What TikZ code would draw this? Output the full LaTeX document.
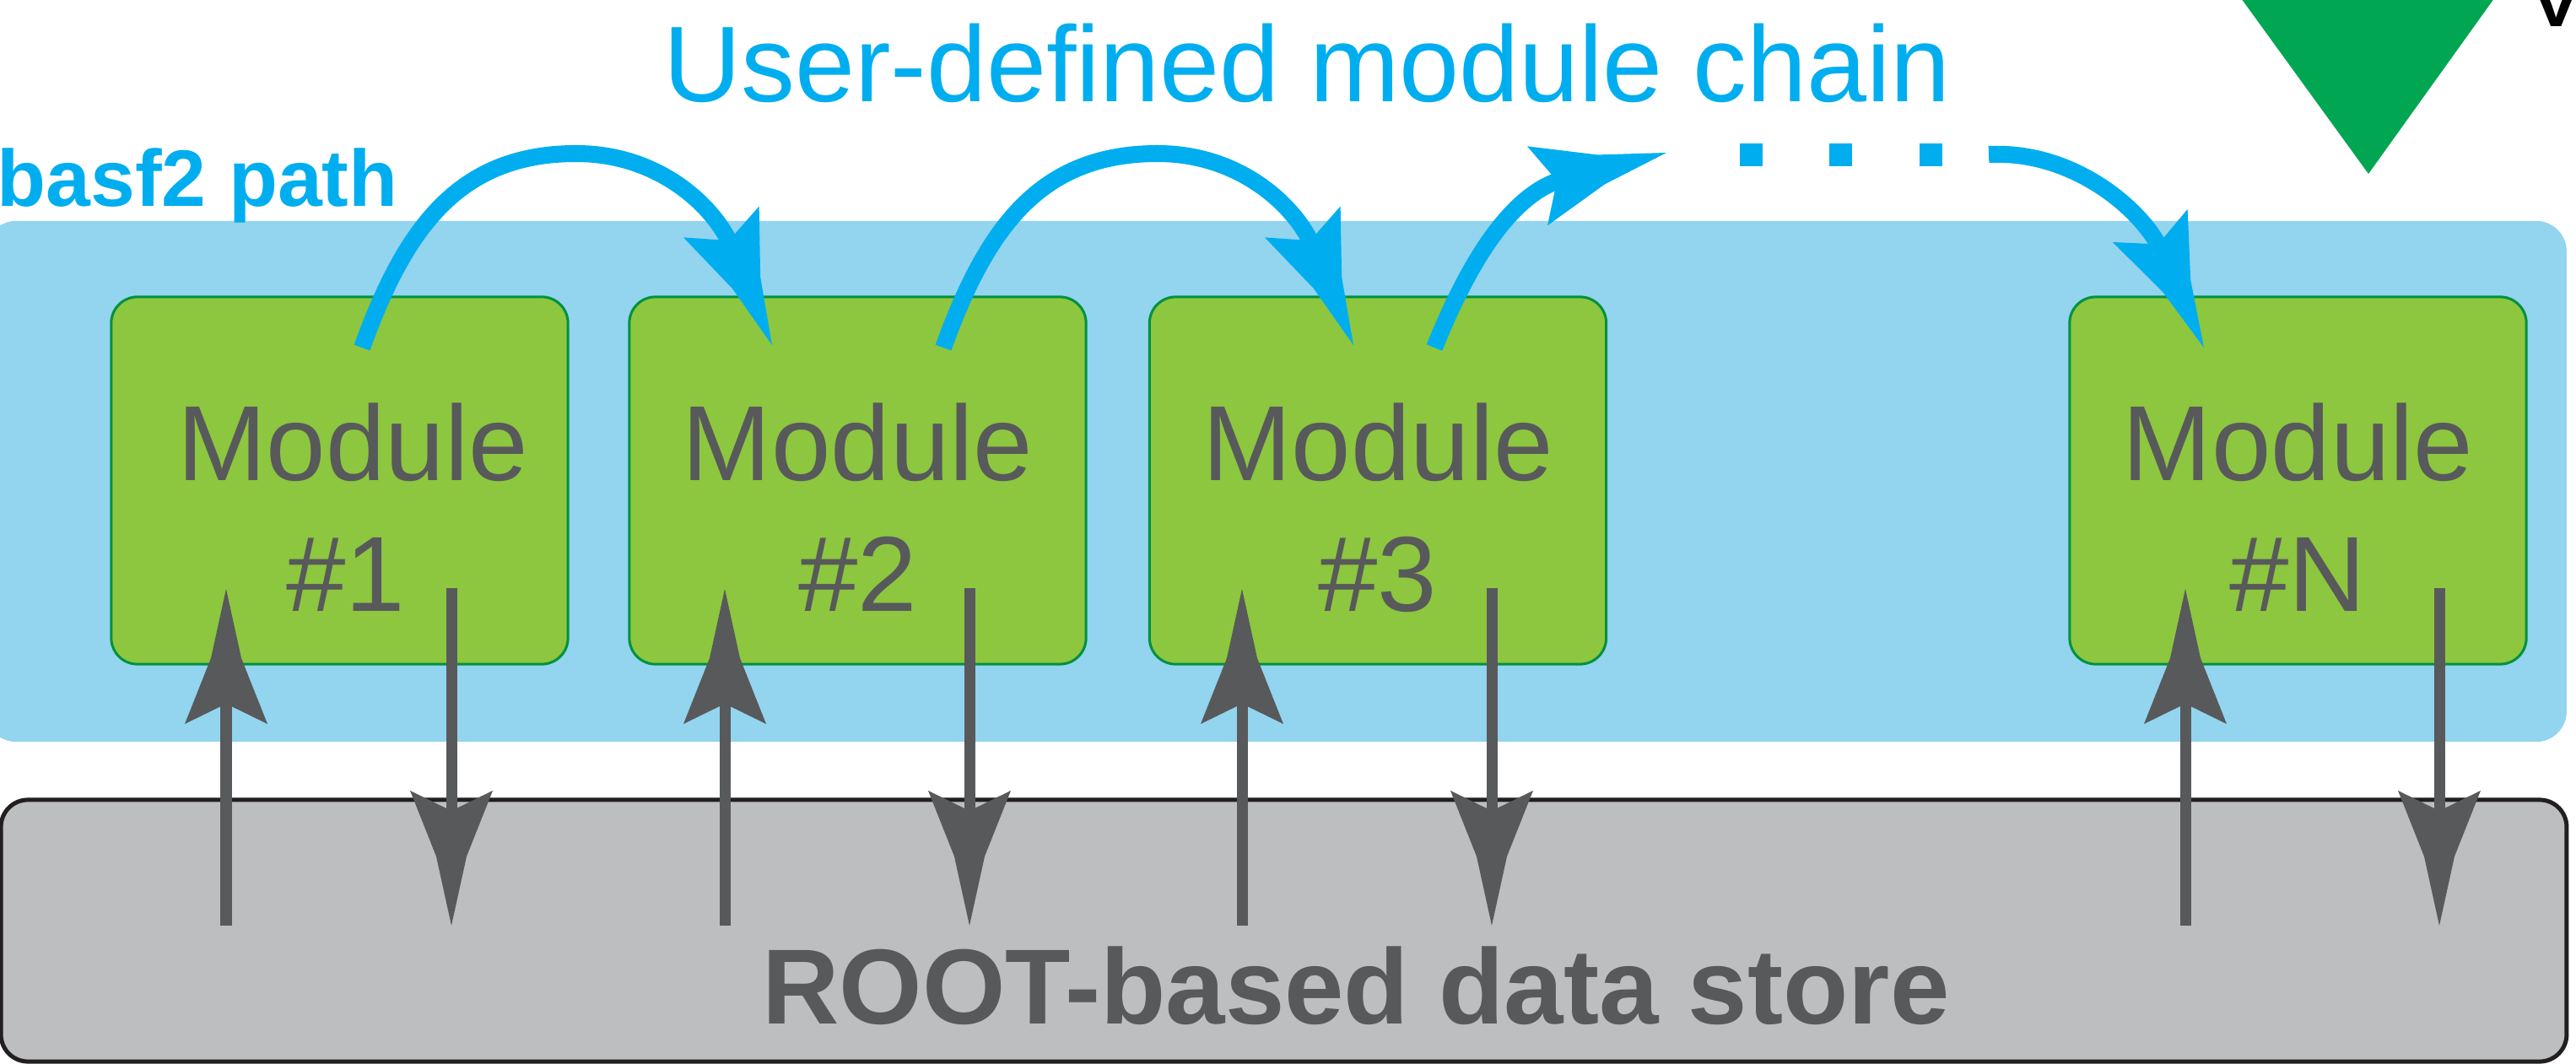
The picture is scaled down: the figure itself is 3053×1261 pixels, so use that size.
\documentclass[tikz,border=0pt]{standalone}
\usepackage{fontspec}
\setmainfont{Liberation Sans}
\definecolor{skyblue}{HTML}{00AEEF}
\definecolor{pathbg}{HTML}{93D4EF}
\definecolor{modfill}{HTML}{8DC63F}
\definecolor{modline}{HTML}{00913F}
\definecolor{dgray}{HTML}{58595B}
\definecolor{storefill}{HTML}{BCBEC0}
\definecolor{storeline}{HTML}{231F20}
\definecolor{trigreen}{HTML}{00A651}
\begin{document}
\begin{tikzpicture}[x=0.01cm, y=-0.01cm,
  pathbox/.style={fill=pathbg, rounded corners=0.36cm, minimum width=30.57cm, minimum height=6.17cm, inner sep=0},
  storebox/.style={draw=storeline, line width=0.05cm, fill=storefill, rounded corners=0.32cm, minimum width=30.39cm, minimum height=3.10cm, inner sep=0},
  modbox/.style={draw=modline, line width=0.03cm, fill=modfill, rounded corners=0.31cm, minimum width=5.41cm, minimum height=4.35cm, inner sep=0},
  modtext/.style={font=\fontsize{36}{43}\selectfont, text=dgray, inner sep=0, anchor=base},
  chain/.style={draw=skyblue, line width=0.2cm},
  io/.style={draw=dgray, line width=0.13cm},
  dotsq/.style={fill=skyblue},
  grayhead/.pic={\fill[dgray] (0,0) -- (18,82) -- (49,160) -- (0,136) -- (-49,160) -- (-18,82) -- cycle;},
  bluehead/.pic={\fill[skyblue] (0,0) -- (18,80) -- (48.5,158) -- (0,134) -- (-48.5,158) -- (-18,80) -- cycle;},
]
\useasboundingbox (0,0) rectangle (3053,1261);

% backgrounds
\node[pathbox] (path) at (1512.5,570.5) {};
\node[storebox] (store) at (1521.5,1103) {};
\node[font=\fontsize{36}{43}\selectfont\bfseries, text=dgray, inner sep=0, anchor=base] (storelabel) at (1607,1213) {ROOT-based data store};

% modules
\node[modbox] (m1) at (402.5,569.5) {};
\node[modbox] (m2) at (1016.5,569.5) {};
\node[modbox] (m3) at (1633,569.5) {};
\node[modbox] (mN) at (2723.5,569.5) {};

\node[modtext] (m1a) at (418,570) {Module};
\node[modtext] (m1b) at (410,725) {\#1};
\node[modtext] (m2a) at (1016.5,570) {Module};
\node[modtext] (m2b) at (1016.5,725) {\#2};
\node[modtext] (m3a) at (1633,570) {Module};
\node[modtext] (m3b) at (1633,725) {\#3};
\node[modtext] (mNa) at (2723.5,570) {Module};
\node[modtext] (mNb) at (2723.5,725) {\#N};

% labels
\node[font=\fontsize{36.3}{43}\selectfont, text=skyblue, inner sep=0, anchor=base] (title) at (1549,121) {User-defined module chain};
\node[font=\fontsize{27}{32}\selectfont\bfseries, text=skyblue, inner sep=0, anchor=base west] (pathlabel) at (-4,245) {basf2 path};

% chain arrows
\coordinate (c1s) at (429,412);
\coordinate (c1b) at (867.5,293.4);
\coordinate (c1e) at (915,409);
\coordinate (c2s) at (1118,412);
\coordinate (c2b) at (1556.5,293.4);
\coordinate (c2e) at (1604,409);
\coordinate (c3s) at (1700,412);
\coordinate (c3b) at (1854,212);
\coordinate (c3e) at (1975,181);
\coordinate (cNs) at (2357,183);
\coordinate (cNb) at (2561.6,297.5);
\coordinate (cNe) at (2612,412);
\draw[chain] (c1s) .. controls (480,271) and (543,182) .. (683,182) .. controls (783,182) and (848.5,247) .. (c1b);
\draw[chain] (c2s) .. controls (1169,271) and (1232,182) .. (1372,182) .. controls (1472,182) and (1537.5,247) .. (c2b);
\draw[chain] (c3s) .. controls (1745,300) and (1796,227) .. (c3b);
\draw[chain] (cNs) .. controls (2460,178) and (2541.5,251.7) .. (cNb);
\pic[rotate=-157.6] at (c1e) {bluehead};
\pic[rotate=-157.6] at (c2e) {bluehead};
\pic[rotate=-75.6] at (c3e) {bluehead};
\pic[rotate=-156.2] at (cNe) {bluehead};

\fill[dotsq] (2062,170) rectangle (2089,197);
\fill[dotsq] (2168,170) rectangle (2195,197);
\fill[dotsq] (2275,170) rectangle (2302,197);

% data store arrows
\foreach \u/\d/\n in {268/535/1, 859/1149/2, 1472/1768/3, 2590/2891/N}{
  \coordinate (up\n s) at (\u,1097);
  \coordinate (up\n b) at (\u,820);
  \coordinate (up\n e) at (\u,698);
  \coordinate (dn\n s) at (\d,697);
  \coordinate (dn\n b) at (\d,975);
  \coordinate (dn\n e) at (\d,1097);
  \draw[io] (up\n s) -- (up\n b);
  \draw[io] (dn\n s) -- (dn\n b);
  \pic at (up\n e) {grayhead};
  \pic[rotate=180] at (dn\n e) {grayhead};
}

% top right partial elements
\fill[trigreen] (2643,-20) -- (2969,-20) -- (2807,206) -- cycle;
\node[font=\fontsize{36}{43}\selectfont, text=black, inner sep=0, anchor=base] (vlabel) at (3030,32) {V};
\end{tikzpicture}
\end{document}
